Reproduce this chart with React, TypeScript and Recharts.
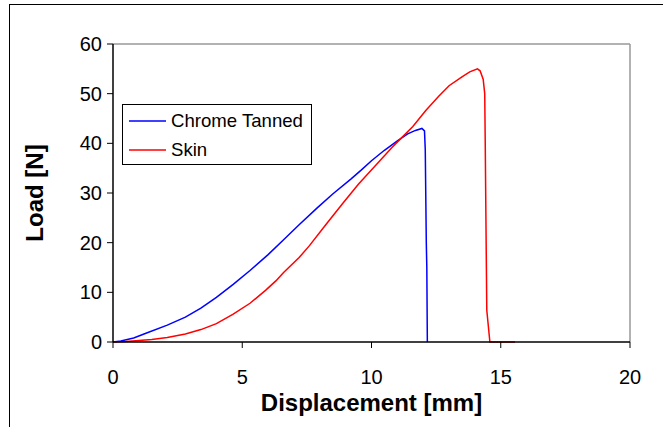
import { Legend, Line, LineChart, ReferenceLine, XAxis, YAxis } from 'recharts';

const xTicks = [0, 5, 10, 15, 20];
const yTicks = [0, 10, 20, 30, 40, 50, 60];

const chromeDisp = [0, 0.3, 0.8, 1.3, 2.1, 2.8, 3.4, 4.0, 4.65, 5.3, 6.0, 6.6, 7.2, 7.9, 8.5, 9.2, 9.6, 10.0, 10.5, 11.0, 11.4, 11.7, 11.95, 12.05, 12.08, 12.12, 12.14, 12.16];
const chromeLoad = [0, 0.2, 0.8, 1.8, 3.4, 5.0, 6.8, 9.0, 11.6, 14.4, 17.6, 20.6, 23.6, 27.0, 29.8, 32.8, 34.6, 36.5, 38.6, 40.5, 41.9, 42.6, 43.0, 42.5, 38.7, 20.0, 15.0, 0];

const skinDisp = [0, 0.5, 1.0, 1.5, 2.1, 2.8, 3.4, 4.0, 4.65, 5.3, 5.9, 6.3, 6.6, 7.2, 7.6, 8.2, 8.9, 9.5, 10.2, 10.8, 11.2, 11.6, 12.1, 12.6, 13.0, 13.5, 13.8, 14.1, 14.2, 14.32, 14.38, 14.4, 14.42, 14.46, 14.58, 15.55];
const skinLoad = [0, 0.1, 0.3, 0.5, 0.9, 1.6, 2.5, 3.7, 5.6, 7.8, 10.4, 12.3, 14.0, 17.0, 19.4, 23.4, 28.0, 31.8, 35.8, 39.2, 41.3, 43.4, 46.6, 49.5, 51.6, 53.4, 54.4, 55.0, 54.6, 52.9, 50.0, 40.0, 28.6, 6.4, 0, 0];

const chromeData = chromeDisp.map((x, i) => ({ x, y: chromeLoad[i] }));
const skinData = skinDisp.map((x, i) => ({ x, y: skinLoad[i] }));

const font = '"Liberation Sans", Arial, sans-serif';

function LegendBox() {
  const items = [
    { name: 'Chrome Tanned', color: '#0000ff' },
    { name: 'Skin', color: '#ff0000' },
  ];
  return (
    <div style={{ border: '1px solid #000', background: '#fff', width: 188, height: 59, boxSizing: 'content-box', fontFamily: font, fontSize: 18.6 }}>
      {items.map((it) => (
        <div key={it.name} style={{ display: 'flex', alignItems: 'center', height: 30, marginTop: it.name === 'Skin' ? -1 : 1 }}>
          <svg width={48} height={4} style={{ marginLeft: 6 }}>
            <line x1={0} y1={2} x2={37} y2={2} stroke={it.color} strokeWidth={1.5} />
          </svg>
          <span style={{ marginLeft: -6 }}>{it.name}</span>
        </div>
      ))}
    </div>
  );
}

export default function App() {
  return (
    <div style={{ position: 'absolute', left: 0, top: 0, width: 663, height: 427, overflow: 'hidden', background: '#fff' }}>
      <div style={{ position: 'absolute', left: 9, top: 4, width: 700, height: 500, border: '1px solid #000' }} />
      <div style={{ position: 'absolute', left: 0, top: 0 }}>
        <LineChart width={663} height={427} margin={{ top: 44, right: 33, bottom: 0, left: 0 }}>
          <XAxis
            dataKey="x"
            type="number"
            domain={[0, 20]}
            ticks={xTicks}
            height={85}
            tickSize={6}
            tickMargin={22}
            axisLine={{ stroke: '#000', strokeWidth: 1.5 }}
            tickLine={{ stroke: '#000' }}
            tick={{ fill: '#000', fontSize: 20, fontFamily: font }}
            label={({ viewBox }: any) => (
              <text x={viewBox.x + viewBox.width / 2} y={viewBox.y + 69} textAnchor="middle" fontFamily={font} fontWeight="bold" fontSize={24} fill="#000">
                Displacement [mm]
              </text>
            )}
          />
          <YAxis
            type="number"
            domain={[0, 60]}
            ticks={yTicks}
            width={113}
            tickSize={6}
            tickMargin={5}
            axisLine={{ stroke: '#000', strokeWidth: 1.5 }}
            tickLine={{ stroke: '#000' }}
            tick={{ fill: '#000', fontSize: 20, fontFamily: font }}
            label={({ viewBox }: any) => {
              const cy = viewBox.y + viewBox.height / 2;
              return (
                <text x={43} y={cy} transform={`rotate(-90, 43, ${cy})`} textAnchor="middle" fontFamily={font} fontWeight="bold" fontSize={24} fill="#000">
                  Load [N]
                </text>
              );
            }}
          />
          <ReferenceLine y={60} stroke="#999" strokeWidth={1.5} />
          <ReferenceLine x={20} stroke="#999" strokeWidth={1.5} />
          <Legend
            layout="horizontal"
            verticalAlign="middle"
            align="center"
            wrapperStyle={{ left: 122, top: 104, width: 190 }}
            content={() => <LegendBox />}
          />
          <Line data={chromeData} dataKey="y" name="Chrome Tanned" stroke="#0000ff" strokeWidth={1.5} dot={false} isAnimationActive={false} />
          <Line data={skinData} dataKey="y" name="Skin" stroke="#ff0000" strokeWidth={1.5} dot={false} isAnimationActive={false} />
        </LineChart>
      </div>
    </div>
  );
}
